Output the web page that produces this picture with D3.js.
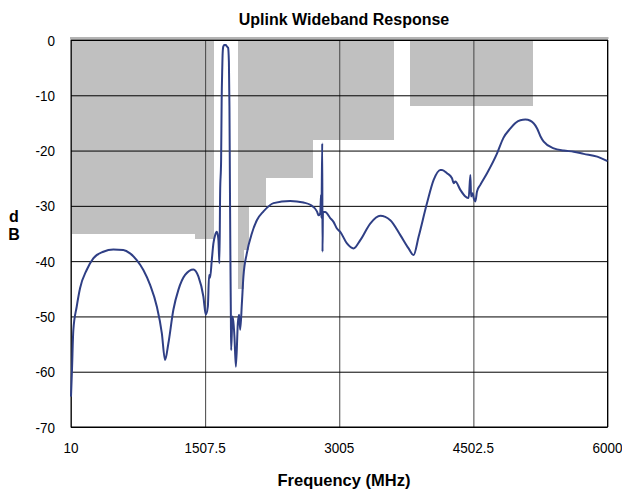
<!DOCTYPE html>
<html lang="en">
<head>
<meta charset="UTF-8">
<title>Uplink Wideband Response</title>
<script src="https://cdnjs.cloudflare.com/ajax/libs/d3/7.8.5/d3.min.js"></script>
<style>
    body { margin: 0; background: #fff; }
    text { font-family: "Liberation Sans", Arial, sans-serif; fill: #000; }
</style>
</head>
<body>
<svg id="chart" width="622" height="493"></svg>
<script>
    // ---- data ----
    const freqTicks = [10, 1507.5, 3005, 4502.5, 6000];
    const dbTicks = [0, -10, -20, -30, -40, -50, -60, -70];

    // spec mask blocks: start MHz, end MHz, floor dB (from 0 dB down)
    const maskStart = [10, 1400, 1870, 1935, 1991, 2178, 2700, 3798];
    const maskEnd   = [1400, 1600, 1935, 1991, 2178, 2700, 3605, 5158];
    const maskFloor = [-35, -36, -45, -38, -30, -25, -18, -12];

    // measured response
    const freq = [
        10, 21, 36, 74, 111, 185, 259, 371, 483, 594, 669, 744, 818, 893, 968,
        1024, 1060, 1097, 1153, 1209, 1284, 1377, 1433, 1488, 1515, 1538, 1552,
        1563, 1582, 1600, 1619, 1638, 1656, 1667, 1675, 1686, 1692, 1699, 1703,
        1710, 1722, 1738, 1752, 1764, 1773, 1779, 1784, 1790, 1795, 1798, 1813,
        1826, 1835, 1851, 1873, 1887, 1899, 1918, 1935, 1973, 2029, 2085, 2159,
        2271, 2457, 2606, 2681, 2756, 2774, 2793, 2801, 2806, 2815, 2818, 2823,
        2848, 2904, 2941, 2979, 3016, 3091, 3165, 3240, 3351, 3463, 3575, 3687,
        3779, 3835, 3891, 3985, 4059, 4134, 4153, 4208, 4264, 4282, 4301, 4357,
        4413, 4450, 4469, 4477, 4495, 4506, 4525, 4543, 4580, 4655, 4767, 4838,
        4916, 4972, 5027, 5083, 5139, 5214, 5251, 5288, 5400, 5511, 5623, 5735,
        5885, 6000
    ];
    const level = [
        -64.5, -59.7, -52.5, -48.2, -44.9, -41.6, -39.5, -38.3, -37.9, -38.0, -38.6, -39.8, -41.6, -44.3, -48.2,
        -53.0, -57.9, -54.9, -48.8, -45.2, -42.5, -41.5, -42.8, -46.4, -49.7, -48.2, -42.5,
        -43.0, -39.8, -36.8, -35.3, -34.7, -36.2, -40.4, -27.7, -21.7, -11.0, -5.0, -2.5,
        -1.2, -0.9, -0.9, -1.2, -1.4, -4.0, -12.0, -25.0, -40.0, -50.0, -56.1, -50.0,
        -51.5, -53.7, -59.1, -51.2, -49.7, -52.4, -47.6, -42.8, -38.6, -35.0, -32.6, -31.0,
        -29.5, -29.1, -29.4, -29.8, -31.0, -31.7, -31.3, -28.0, -32.2, -18.7, -38.3, -31.1,
        -31.1, -32.2, -32.9, -34.1, -34.7, -36.8, -37.7, -36.2, -33.2, -31.8, -32.6, -35.3,
        -37.7, -38.9, -35.6, -29.5, -25.3, -23.5, -23.5, -24.1, -25.0, -25.9, -25.6, -27.1,
        -28.3, -28.6, -24.4, -28.3, -27.7, -28.6, -29.2, -27.4, -26.2, -24.1, -20.5, -17.7,
        -16.0, -15.0, -14.5, -14.4, -14.6, -16.0, -17.4, -18.4, -19.6, -20.0, -20.2, -20.6,
        -21.1, -21.9
    ];

    // ---- layout ----
    const plotL = 71, plotT = 40, plotR = 607.5, plotB = 427;

    const svg = d3.select("#chart");

    const x = d3.scaleLinear().domain([10, 6000]).range([plotL, plotR]);
    const y = d3.scaleLinear().domain([-70, 0]).range([plotB, plotT]);

    // thin shadow line above the plot
    svg.append("rect")
        .attr("x", plotL - 1).attr("y", plotT - 3)
        .attr("width", plotR - plotL + 2).attr("height", 2)
        .attr("fill", "#b4b4b4");

    // mask blocks
    svg.append("g")
        .attr("shape-rendering", "crispEdges")
        .selectAll("rect")
        .data(maskStart.map((s, i) => ({ s, e: maskEnd[i], f: maskFloor[i] })))
        .join("rect")
        .attr("x", d => x(d.s))
        .attr("y", y(0))
        .attr("width", d => x(d.e) - x(d.s) + 0.6)
        .attr("height", d => y(d.f) - y(0))
        .attr("fill", "#c0c0c0");

    // grid
    svg.append("g")
        .attr("transform", `translate(0,${plotB})`)
        .call(d3.axisBottom(x).tickValues(freqTicks).tickSize(-(plotB - plotT)).tickFormat(""))
        .call(g => g.select(".domain").remove())
        .call(g => g.selectAll("line").attr("stroke", "#444"));

    svg.append("g")
        .attr("transform", `translate(${plotL},0)`)
        .call(d3.axisLeft(y).tickValues(dbTicks).tickSize(-(plotR - plotL)).tickFormat(""))
        .call(g => g.select(".domain").remove())
        .call(g => g.selectAll("line").attr("stroke", "#000"));

    // frame
    svg.append("rect")
        .attr("x", plotL).attr("y", plotT)
        .attr("width", plotR - plotL).attr("height", plotB - plotT)
        .attr("fill", "none").attr("stroke", "#000").attr("stroke-width", 1);

    // response curve
    const line = d3.line()
        .x((d, i) => x(freq[i]))
        .y(d => y(d))
        .curve(d3.curveMonotoneX);

    svg.append("path")
        .attr("d", line(level))
        .attr("fill", "none")
        .attr("stroke", "#2f3f85")
        .attr("stroke-width", 2)
        .attr("stroke-linejoin", "round");

    // tick labels
    svg.append("g")
        .selectAll("text")
        .data(freqTicks)
        .join("text")
        .attr("transform", d => `translate(${x(d)},453) scale(0.9,1)`)
        .attr("text-anchor", "middle")
        .attr("font-size", 15)
        .text(d => d);

    svg.append("g")
        .selectAll("text")
        .data(dbTicks)
        .join("text")
        .attr("transform", d => `translate(55,${y(d) + 5.5}) scale(0.9,1)`)
        .attr("text-anchor", "end")
        .attr("font-size", 15)
        .text(d => d);

    // titles
    svg.append("text")
        .attr("x", 344).attr("y", 25)
        .attr("text-anchor", "middle")
        .attr("font-size", 16)
        .attr("font-weight", "bold")
        .text("Uplink Wideband Response");

    svg.append("text")
        .attr("x", 344).attr("y", 486)
        .attr("text-anchor", "middle")
        .attr("font-size", 16.5)
        .attr("font-weight", "bold")
        .text("Frequency (MHz)");

    svg.append("text")
        .attr("x", 14).attr("y", 222)
        .attr("text-anchor", "middle")
        .attr("font-size", 16)
        .attr("font-weight", "bold")
        .text("d");
    svg.append("text")
        .attr("x", 14).attr("y", 240)
        .attr("text-anchor", "middle")
        .attr("font-size", 16)
        .attr("font-weight", "bold")
        .text("B");
</script>
</body>
</html>
